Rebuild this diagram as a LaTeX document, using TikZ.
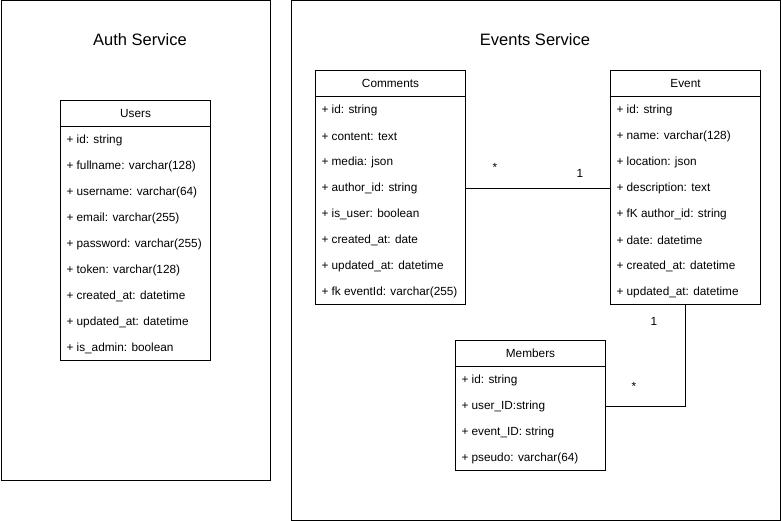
\documentclass[tikz,border=0pt]{standalone}
\usepackage{fontspec}
\setmainfont{Liberation Sans}
\usetikzlibrary{positioning}
% one table: name, x, y, title, number of rows, rows
\newcommand{\dbtable}[6]{%
	\node[tblframe,minimum height={26+26*#5}] (#1) at (#2,#3) {};
	\node[tblhead] (#1-h) at (#2,#3) {#4};
	\foreach \r [count=\i] in {#6}
		\node[field] (#1-\i) at ({#2+3},{#3+14.5+26*\i}) {\r};
}
\begin{document}
\begin{tikzpicture}[x=1pt,y=-1pt,line width=1pt,font=\fontsize{11.8}{14}\selectfont,
	service/.style={draw,anchor=north west,inner sep=0pt},
	title/.style={font=\fontsize{16.5}{19}\selectfont},
	tblframe/.style={draw,anchor=north west,minimum width=150,inner sep=0pt},
	tblhead/.style={draw,anchor=north west,minimum width=150,minimum height=26,inner sep=0pt},
	field/.style={anchor=west,inner sep=3pt},
	mult/.style={inner sep=1pt}]
	\useasboundingbox (0,0) rectangle (781,521);
	% services
	\node[service,minimum width=269,minimum height=479] (auth) at (0.5,0.5) {};
	\node[title] (authtitle) at (140,40) {Auth Service};
	\node[service,minimum width=489,minimum height=519] (events) at (290.5,0.5) {};
	\node[title] (eventstitle) at (535,40) {Events Service};
	% tables
	\dbtable{users}{60}{100}{Users}{9}{+ id: string,+ fullname: varchar(128),+ username: varchar(64),+ email: varchar(255),+ password: varchar(255),+ token: varchar(128),+ created\_at: datetime,+ updated\_at: datetime,+ is\_admin: boolean}
	\dbtable{comments}{315}{70}{Comments}{8}{+ id: string,+ content: text,+ media: json,+ author\_id: string,+ is\_user: boolean,+ created\_at: date,+ updated\_at: datetime,+ fk eventId: varchar(255)}
	\dbtable{event}{610}{70}{Event}{8}{+ id: string,+ name: varchar(128),+ location: json,+ description: text,+ fK author\_id: string,+ date: datetime,+ created\_at: datetime,+ updated\_at: datetime}
	\dbtable{members}{455}{340}{Members}{4}{+ id: string,+ user\_ID:string,+ event\_ID: string,+ pseudo: varchar(64)}
	% relations
	\draw (comments.east |- comments-4) -- (event.west |- comments-4);
	\node[mult] (cm-many) at (495,167) {*};
	\node[mult] (cm-one) at (580,173) {1};
	\draw (members.east |- members-2) -| (event.south);
	\node[mult] (me-one) at (654,321) {1};
	\node[mult] (me-many) at (634,386) {*};
\end{tikzpicture}
\end{document}
